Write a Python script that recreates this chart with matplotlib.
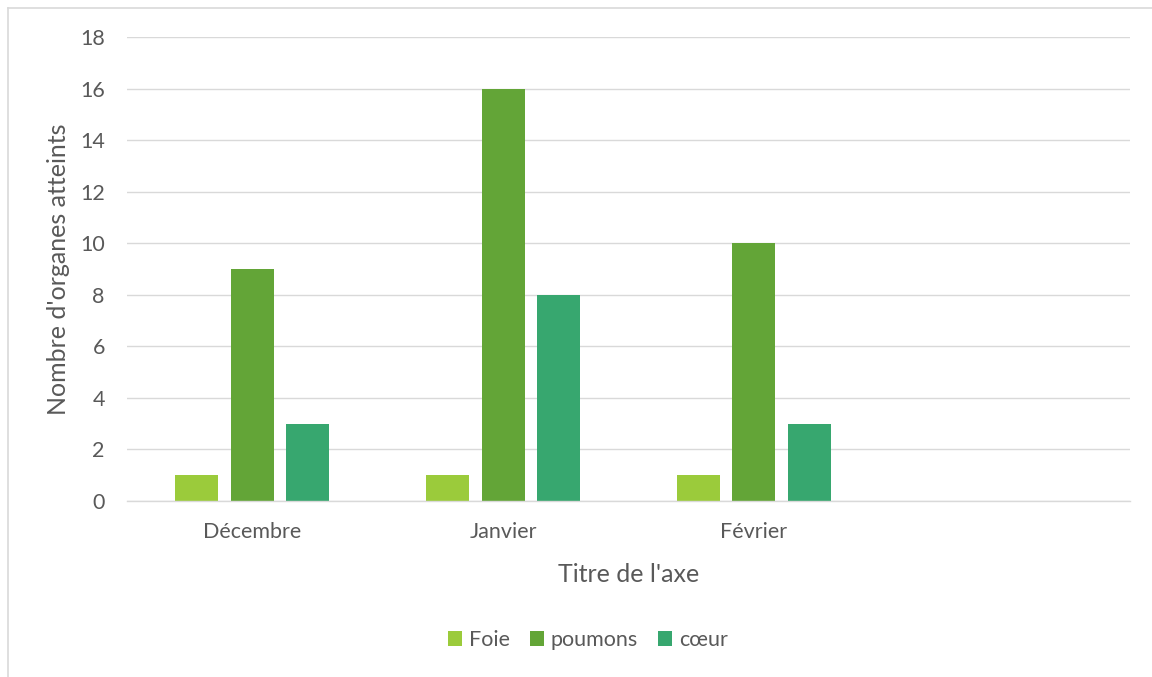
import matplotlib
matplotlib.use("Agg")
import matplotlib.pyplot as plt
import numpy as np
from matplotlib.lines import Line2D

categories = ["Décembre", "Janvier", "Février", ""]
series_names = ["Foie", "poumons", "cœur"]
foie = [1, 1, 1, 0]
poumons = [9, 16, 10, 0]
coeur = [3, 8, 3, 0]
colors = ["#9BCB3B", "#63A537", "#37A76F"]
yticks = [0, 2, 4, 6, 8, 10, 12, 14, 16, 18]

plt.rcParams['font.family'] = ['Lato', 'DejaVu Sans']
txt = "#595959"

fig = plt.figure(figsize=(11.52, 6.77), dpi=100)
ax = fig.add_axes([127/1152, 1-501/677, (1130-127)/1152, (501-37)/677])

x = np.arange(len(categories))
w = 0.1715
step = 0.221
for i, (vals, name, c) in enumerate(zip([foie, poumons, coeur], series_names, colors)):
    v = np.array(vals, dtype=float)
    mask = np.arange(len(v)) < 3
    ax.bar(x[mask] + (i - 1) * step, v[mask], width=w, color=c, label=name, zorder=3)

ax.set_xlim(-0.5, len(categories) - 0.5)
ax.set_ylim(0, 18)
ax.set_yticks(yticks)
ax.set_xticks(x)
ax.set_xticklabels(categories)
ax.grid(axis='y', color='#D9D9D9', linewidth=1.0, zorder=0)
for s in ['left', 'right', 'top']:
    ax.spines[s].set_visible(False)
ax.spines['bottom'].set_color('#D9D9D9')
ax.spines['bottom'].set_linewidth(1.0)
ax.spines['bottom'].set_zorder(4)
ax.tick_params(axis='both', length=0, labelsize=15.5, colors=txt)
ax.tick_params(axis='y', pad=16)
ax.tick_params(axis='x', pad=15)
ax.set_ylabel("Nombre d'organes atteints", fontsize=18, color=txt, labelpad=7)
ax.set_xlabel("Titre de l'axe", fontsize=18, color=txt, labelpad=15)

leg = ax.legend(loc='center', bbox_to_anchor=(588/1152, 1-640/677), bbox_transform=fig.transFigure,
                ncol=3, frameon=False, fontsize=15.5, handlelength=0.65, handleheight=0.65,
                columnspacing=0.95, handletextpad=0.3)
for t in leg.get_texts():
    t.set_color(txt)

# chart border (left and top visible)
fig.add_artist(Line2D([7.5/1152, 7.5/1152], [0, 1-7.5/677], color='#D9D9D9', lw=1.2, transform=fig.transFigure))
fig.add_artist(Line2D([7.5/1152, 1], [1-7.5/677, 1-7.5/677], color='#D9D9D9', lw=1.2, transform=fig.transFigure))

fig.savefig("out.png", dpi=100)
